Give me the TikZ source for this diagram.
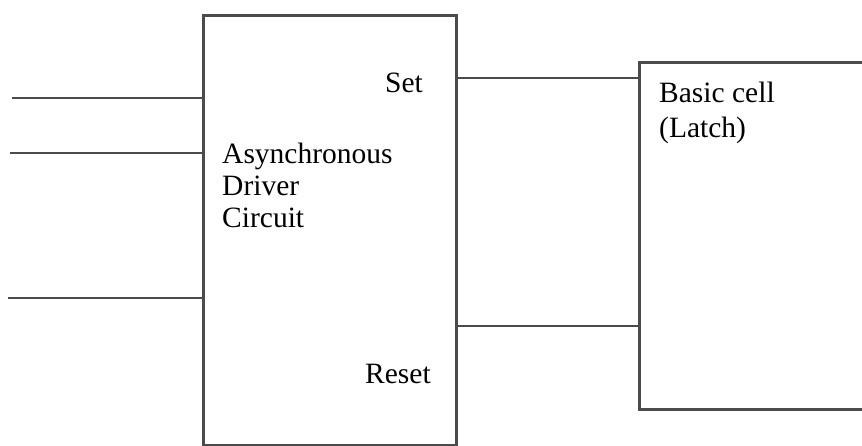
\documentclass[tikz,border=0pt]{standalone}
\usepackage{fontspec}
\setmainfont{Liberation Serif}
\definecolor{linegray}{RGB}{75,75,78}
\begin{document}
\begin{tikzpicture}[x=1pt,y=-1pt,
  wire/.style={draw=linegray,line width=2.6pt},
  blockbox/.style={draw=linegray,line width=2.6pt,rectangle,inner sep=0pt,anchor=north west},
  lbl/.style={font=\fontsize{29.5}{33}\selectfont,text=black,inner sep=0pt,anchor=base west,align=left}]
\clip (0,0) rectangle (862,445);
\fill[white] (0,0) rectangle (862,445);
\node[blockbox,minimum width=253pt,minimum height=430pt] (drv) at (202,14) {};
\node[blockbox,minimum width=300pt,minimum height=347pt] (cell) at (638,61) {};
\coordinate (in1) at (12,98);
\coordinate (in2) at (10,153);
\coordinate (in3) at (8,298);
\coordinate (sety) at (0,78);
\coordinate (resety) at (0,326);
\draw[wire] (in1) -- (in1 -| drv.west);
\draw[wire] (in2) -- (in2 -| drv.west);
\draw[wire] (in3) -- (in3 -| drv.west);
\draw[wire] (drv.east |- sety) -- (cell.west |- sety);
\draw[wire] (drv.east |- resety) -- (cell.west |- resety);
\node[lbl] (setlbl) at (385,92) {Set};
\node[lbl] (resetlbl) at (365,383) {Reset};
\node[lbl,font=\fontsize{29.5}{32}\selectfont] (drvlbl) at (222,227) {Asynchronous\\Driver\\Circuit};
\node[lbl,font=\fontsize{29.5}{35}\selectfont] (celllbl) at (659,137) {Basic cell\\(Latch)};
\end{tikzpicture}
\end{document}
